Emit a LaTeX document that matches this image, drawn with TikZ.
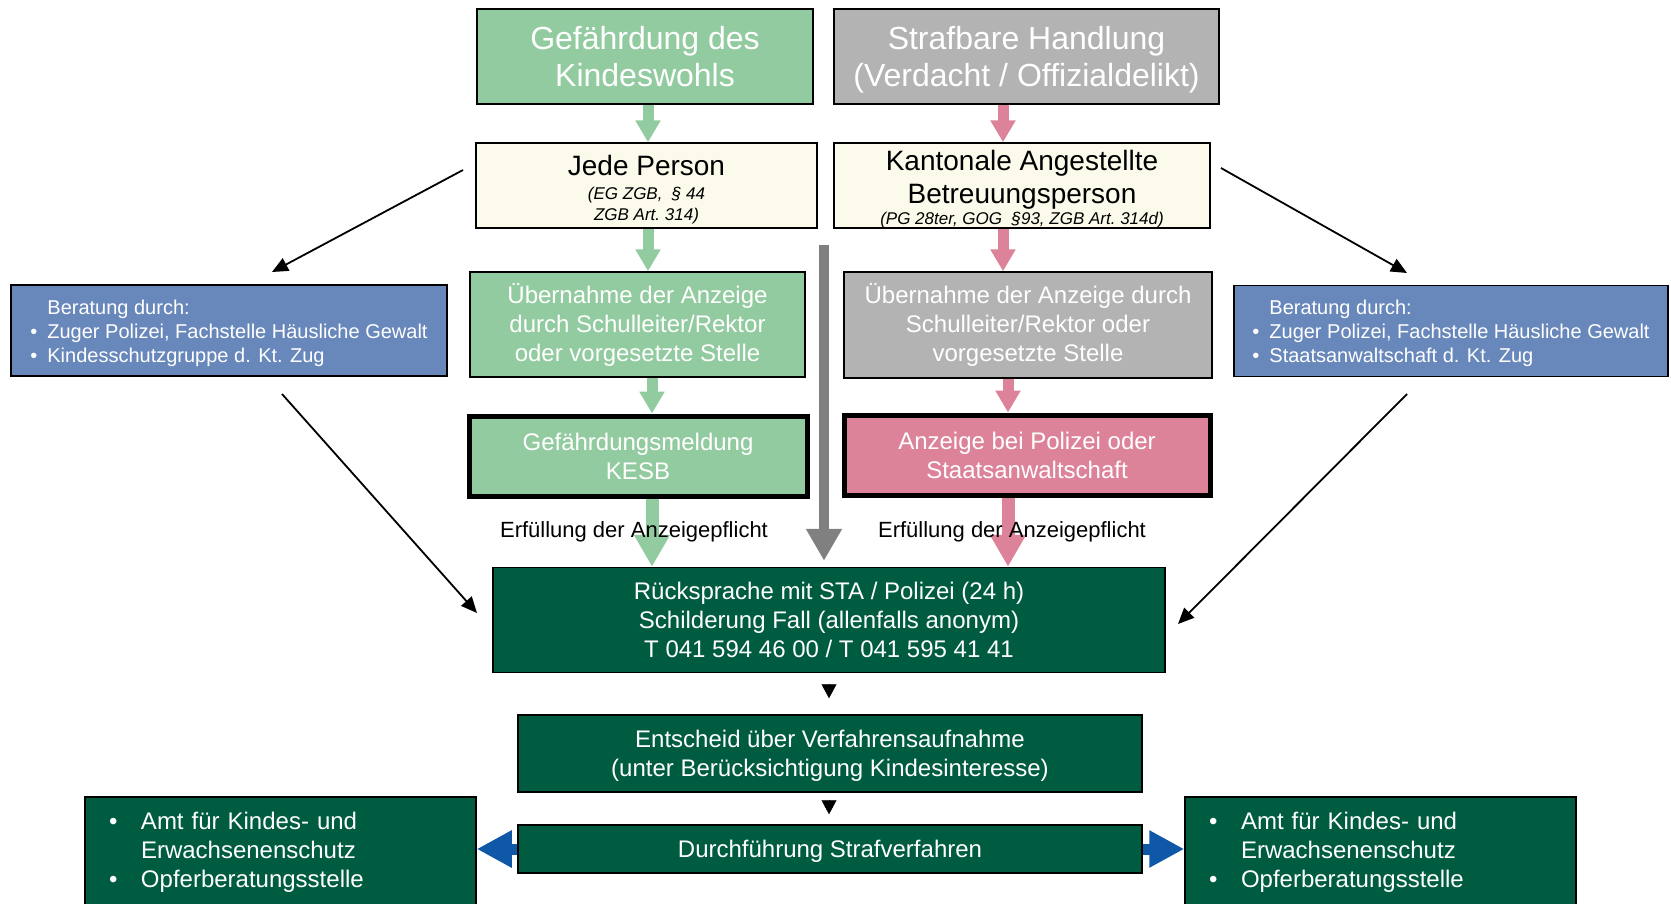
\documentclass[tikz,border=0pt]{standalone}
\usepackage{fontspec}
\setmainfont{Liberation Sans}
\usepackage{xcolor}
\usetikzlibrary{arrows.meta}
\definecolor{kwgreen}{RGB}{147,203,160}
\definecolor{kwgray}{RGB}{179,179,179}
\definecolor{kwcream}{RGB}{252,250,234}
\definecolor{kwblue}{RGB}{104,135,186}
\definecolor{kwdark}{RGB}{0,92,65}
\definecolor{kwpink}{RGB}{220,131,153}
\definecolor{kwarrowgray}{RGB}{128,128,128}
\definecolor{kwarrowblue}{RGB}{15,88,168}
\newcommand{\kwsmall}{\fontsize{17}{21}\selectfont\itshape}
\newcommand{\kwup}[1]{\rule{0pt}{#1}}

\begin{document}
\begin{tikzpicture}[x=1pt,y=-1pt,
    box/.style={draw=black,line width=1.5pt,inner sep=0pt,align=center,text=white},
    thickbox/.style={box,line width=5pt},
    midarrow/.style={line width=11pt,-{Triangle[width=24pt,length=22pt]}},
    bigarrow/.style={line width=13pt,-{Triangle[width=34pt,length=32pt]}},
    thinarrow/.style={draw=black,line width=1.8pt,-{Triangle[width=14pt,length=16pt]}},
    headonly/.style={draw=black,line width=0.5pt,-{Triangle[width=15pt,length=14pt]}},
    bluearrow/.style={draw=kwarrowblue,line width=11pt,-{Triangle[width=35pt,length=35pt]}}]
        \newcommand{\figtopfont}{\fontsize{32}{37}\selectfont}
        \newcommand{\figmidfont}{\fontsize{24}{29}\selectfont}
        \useasboundingbox (0,0) rectangle (1671,903);
        \coordinate (gcolA) at (648,0);
        \coordinate (gcolB) at (652,0);
        \coordinate (pcolA) at (1003,0);
        \coordinate (pcolB) at (1008,0);
        \coordinate (hcol) at (829,0);
        \coordinate (grtop) at (824,245);
        \coordinate (dlA) at (463,170);
        \coordinate (dlB) at (272,272);
        \coordinate (drA) at (1221,168);
        \coordinate (drB) at (1407,273);
        \coordinate (ulA) at (282,394);
        \coordinate (ulB) at (477,613);
        \coordinate (urA) at (1407,394);
        \coordinate (urB) at (1178,624);
        \node[box,fill=kwgreen,minimum width=336pt,minimum height=95pt,font=\figtopfont] (gefahr) at (645,56.5) {Gefährdung des\\Kindeswohls};
        \node[box,fill=kwgray,minimum width=385pt,minimum height=95pt,font=\figtopfont] (straf) at (1026.5,56.5) {\kwup{29.5pt}Strafbare Handlung\\(Verdacht / Offizialdelikt)};
        \node[box,fill=kwcream,text=black,minimum width=341pt,minimum height=85pt,font=\fontsize{28}{33}\selectfont] (jede) at (646.5,185.5) {\kwup{28pt}Jede Person\\[-9pt]{\kwsmall (EG ZGB,\ \ § 44}\\[-12pt]{\kwsmall ZGB Art.~314)}};
        \node[box,fill=kwcream,text=black,minimum width=376pt,minimum height=85pt,font=\fontsize{28}{33}\selectfont] (kanton) at (1022,185.5) {\kwup{27pt}Kantonale Angestellte\\Betreuungsperson\\[-12pt]{\kwsmall (PG 28ter, GOG\ \ §93, ZGB Art.~314d)}};
        \node[box,fill=kwblue,minimum width=436pt,minimum height=91pt,font=\fontsize{20}{24}\selectfont] (berL) at (229,330.5) {\begin{tabular}{@{}p{17pt}@{}l@{}} \kwup{23pt}& Beratung durch:\\ • & Zuger Polizei, Fachstelle Häusliche Gewalt\\ • & Kindesschutzgruppe d. Kt. Zug\end{tabular}};
        \node[box,fill=kwblue,minimum width=434pt,minimum height=91pt,font=\fontsize{20}{24}\selectfont] (berR) at (1451,331) {\begin{tabular}{@{}p{17pt}@{}l@{}} \kwup{23pt}& Beratung durch:\\ • & Zuger Polizei, Fachstelle Häusliche Gewalt\\ • & Staatsanwaltschaft d. Kt. Zug\end{tabular}};
        \node[box,fill=kwgreen,minimum width=335pt,minimum height=105pt,font=\figmidfont] (uebL) at (637.5,324.5) {Übernahme der Anzeige\\durch Schulleiter/Rektor\\oder vorgesetzte Stelle};
        \node[box,fill=kwgray,minimum width=368pt,minimum height=106pt,font=\figmidfont] (uebR) at (1028,325) {Übernahme der Anzeige durch\\Schulleiter/Rektor oder\\vorgesetzte Stelle};
        \node[thickbox,fill=kwgreen,minimum width=338pt,minimum height=80pt,font=\figmidfont] (meldung) at (638,456) {Gefährdungsmeldung\\KESB};
        \node[thickbox,fill=kwpink,minimum width=366pt,minimum height=80pt,font=\figmidfont] (anzeige) at (1027,455) {Anzeige bei Polizei oder\\Staatsanwaltschaft};
        \node[box,fill=kwdark,minimum width=672pt,minimum height=105pt,font=\figmidfont] (ruecks) at (829,620) {Rücksprache mit STA / Polizei (24 h)\\Schilderung Fall (allenfalls anonym)\\T 041 594 46 00 / T 041 595 41 41};
        \node[box,fill=kwdark,minimum width=624pt,minimum height=77pt,font=\figmidfont] (entsch) at (830,753.5) {\kwup{21.5pt}Entscheid über Verfahrensaufnahme\\(unter Berücksichtigung Kindesinteresse)};
        \node[box,fill=kwdark,minimum width=624pt,minimum height=48pt,font=\figmidfont] (durch) at (830,849) {\kwup{21.5pt}Durchführung Strafverfahren};
        \node[box,fill=kwdark,minimum width=391pt,minimum height=112pt,text width=343pt,inner xsep=24pt,align=left,font=\figmidfont] (botL) at (280.5,853) {\begin{tabular}{@{}p{32pt}@{}l@{}} • & Amt für Kindes- und\\ & Erwachsenenschutz\\ • & Opferberatungsstelle\end{tabular}};
        \node[box,fill=kwdark,minimum width=391pt,minimum height=112pt,text width=343pt,inner xsep=24pt,align=left,font=\figmidfont] (botR) at (1380.5,853) {\begin{tabular}{@{}p{32pt}@{}l@{}} • & Amt für Kindes- und\\ & Erwachsenenschutz\\ • & Opferberatungsstelle\end{tabular}};
        \draw[midarrow,draw=kwgreen] (gefahr.south -| gcolA) -- (jede.north -| gcolA);
        \draw[midarrow,draw=kwgreen] (jede.south -| gcolA) -- (uebL.north -| gcolA);
        \draw[midarrow,draw=kwgreen] (uebL.south -| gcolB) -- (meldung.north -| gcolB);
        \draw[midarrow,draw=kwpink] (straf.south -| pcolA) -- (kanton.north -| pcolA);
        \draw[midarrow,draw=kwpink] (kanton.south -| pcolA) -- (uebR.north -| pcolA);
        \draw[midarrow,draw=kwpink] (uebR.south -| pcolB) -- (anzeige.north -| pcolB);
        \draw[bigarrow,draw=kwgreen] (meldung.south -| gcolB) -- (ruecks.north -| gcolB);
        \draw[bigarrow,draw=kwpink] (anzeige.south -| pcolB) -- (ruecks.north -| pcolB);
        \draw[bigarrow,draw=kwarrowgray,line width=10pt,shorten >=6pt] (grtop) -- (grtop |- ruecks.north);
        \node[font=\fontsize{22}{26}\selectfont,inner sep=0pt] (erfL) at (634,532) {Erfüllung der Anzeigepflicht};
        \node[font=\fontsize{22}{26}\selectfont,inner sep=0pt] (erfR) at (1012,532) {Erfüllung der Anzeigepflicht};
        \draw[thinarrow] (dlA) -- (dlB);
        \draw[thinarrow] (drA) -- (drB);
        \draw[thinarrow] (ulA) -- (ulB);
        \draw[thinarrow] (urA) -- (urB);
        \draw[headonly,shorten <=12pt,shorten >=16pt] (ruecks.south -| hcol) -- (entsch.north -| hcol);
        \draw[headonly,shorten <=7pt,shorten >=10pt] (entsch.south -| hcol) -- (durch.north -| hcol);
        \draw[bluearrow] (durch.west) -- (durch.west -| botL.east);
        \draw[bluearrow] (durch.east) -- (durch.east -| botR.west);
    \end{tikzpicture}
\end{document}
